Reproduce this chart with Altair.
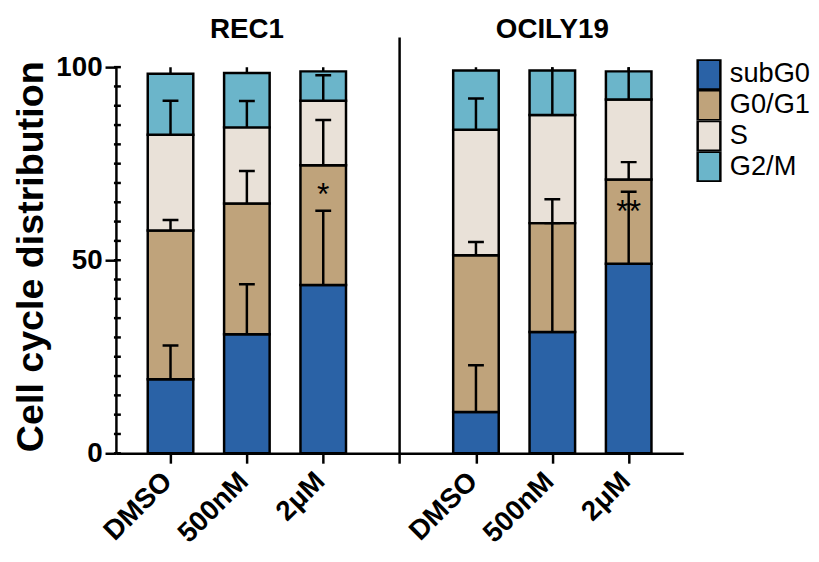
import json
import altair as alt
import pandas as pd

# ---------------- data ----------------
groups = ["REC1", "OCILY19"]
treatments = ["DMSO", "500nM", "2μM"]
phases = ["subG0", "G0/G1", "S", "G2/M"]
colors = ["#2A62A6", "#BFA37B", "#E9E1D8", "#6BB5CA"]

# mean % per phase (subG0, G0/G1, S, G2/M) for each treatment
rec1_means = [[19.2, 38.5, 24.8, 15.8], [30.8, 33.9, 19.7, 14.1], [43.6, 31.0, 16.7, 7.6]]
rec1_err = [[8.7, 2.7, 8.8, 3.0], [13.0, 8.4, 6.8, 3.0], [19.2, 11.7, 6.6, 3.0]]
ocily_means = [[10.7, 40.6, 32.5, 15.3], [31.4, 28.2, 28.0, 11.5], [49.1, 21.8, 20.7, 7.3]]
ocily_err = [[12.1, 3.4, 8.1, 2.0], [28.2, 6.2, 14.0, 3.0], [18.6, 4.5, 10.0, 3.0]]

x_labels = ["DMSO", "500nM", "2μM", "", "DMSO", "500nM", "2μM"]
x_domain = [-0.65, 6.65]
bar_pos = {"REC1": [0, 1, 2], "OCILY19": [4, 5, 6]}
group_title_pos = [1, 5]
divider_pos = x_labels.index("")
divider_top = 107.7

y_major = [0, 50, 100]
y_minor = list(range(0, 101, 5))

star_text = ["*", "**"]
star_x = [2, 6]
star_y = [64.2, 60.0]

# ---------------- build table ----------------
rows = []
for g, means, errs in [("REC1", rec1_means, rec1_err), ("OCILY19", ocily_means, ocily_err)]:
    for ti, t in enumerate(treatments):
        base = 0.0
        for pi, p in enumerate(phases):
            v = means[ti][pi]
            rows.append({
                "group": g, "treatment": t, "phase": p, "order": pi,
                "pos": bar_pos[g][ti], "lo": base, "hi": base + v,
                "etop": base + v + errs[ti][pi],
            })
            base += v
df = pd.DataFrame(rows)

FONT = "Liberation Sans"
x_scale = alt.Scale(domain=x_domain, nice=False, zero=False)
y_scale = alt.Scale(domain=[0, 100], nice=False)
color_scale = alt.Scale(domain=phases, range=colors)

label_js = json.dumps(x_labels, ensure_ascii=False)
xaxis = alt.Axis(
    values=list(range(len(x_labels))),
    labelExpr=f"{label_js}[datum.value]",
    labelAngle=-45, labelFontSize=28, labelFontWeight="bold", labelFont=FONT,
    labelColor="black", labelPadding=4, labelOffset=-13, labelFlush=False, labelOverlap=False,
    tickSize=10, tickWidth=2.5, tickColor="black",
    domainWidth=2.5, domainColor="black", grid=False, title=None,
)
yaxis = alt.Axis(
    values=y_major,
    labelFontSize=28, labelFontWeight="bold", labelFont=FONT, labelColor="black",
    labelPadding=3, labelOverlap=False, labelFlush=False,
    tickSize=11, tickWidth=2.5, tickColor="black",
    domainWidth=2.5, domainColor="black", grid=False,
    title="Cell cycle distribution", titleFontSize=38, titleFontWeight="bold",
    titleFont=FONT, titleColor="black", titlePadding=5, titleY=191,
)


def X(field=None, datum=None):
    if datum is not None:
        return alt.X(datum=datum, type="quantitative", scale=x_scale, axis=xaxis)
    return alt.X(field, type="quantitative", scale=x_scale, axis=xaxis)


def Y(field):
    return alt.Y(field, type="quantitative", scale=y_scale, axis=yaxis)


bars = alt.Chart(df).mark_bar(stroke="black", strokeWidth=2.5, size=46).encode(
    x=X("pos"),
    y=Y("lo"),
    y2="hi:Q",
    color=alt.Color(
        "phase:N", scale=color_scale, sort=phases,
        legend=alt.Legend(
            title=None, orient="none", legendX=582, legendY=-8, padding=0,
            symbolType="M-0.74,-0.97H0.74V0.97H-0.74Z", symbolSize=961,
            symbolStrokeColor="black", symbolStrokeWidth=2.5, symbolOpacity=1,
            labelFontSize=27.5, labelFont=FONT, labelColor="black", labelOffset=4,
            rowPadding=0, clipHeight=31, labelLimit=0,
        ),
    ),
)

# minor ticks of the y axis (every 5 %), drawn at the left edge of the plot
minor_ticks = alt.Chart(pd.DataFrame({"v": y_minor})).mark_tick(
    orient="horizontal", color="black", thickness=2.5, size=7, opacity=1, xOffset=-3.5
).encode(x=X(datum=x_domain[0]), y=Y("v"))

err_lines = alt.Chart(df).mark_rule(color="black", strokeWidth=2.5, clip=True).encode(
    x=X("pos"), y=Y("hi"), y2="etop:Q"
)
err_caps = alt.Chart(df).mark_tick(
    orient="horizontal", color="black", thickness=2.5, size=16, opacity=1, clip=True
).encode(x=X("pos"), y=Y("etop"))

divider = alt.Chart(pd.DataFrame({"pos": [divider_pos], "y": [0], "y2": [divider_top]})).mark_rule(
    color="black", strokeWidth=2.5
).encode(x=X("pos"), y=Y("y"), y2="y2:Q")

titles = alt.Chart(pd.DataFrame({"pos": group_title_pos, "t": groups, "y": [109.5, 109.5]})).mark_text(
    font=FONT, fontSize=28, fontWeight="bold", color="black", baseline="middle"
).encode(x=X("pos"), y=Y("y"), text="t:N")

stars = alt.Chart(pd.DataFrame({"pos": star_x, "y": star_y, "t": star_text})).mark_text(
    font=FONT, fontSize=32, color="black", baseline="alphabetic"
).encode(x=X("pos"), y=Y("y"), text="t:N")

chart = alt.layer(minor_ticks, bars, err_lines, err_caps, divider, titles, stars).properties(
    width=573, height=390,
    autosize=alt.AutoSizeParams(type="none"),
    padding={"left": 109, "top": 57, "right": 129, "bottom": 99},
).configure(font=FONT).configure_view(strokeWidth=0, stroke=None)

chart.save("out.html", embed_options={"renderer": "svg", "actions": False})
